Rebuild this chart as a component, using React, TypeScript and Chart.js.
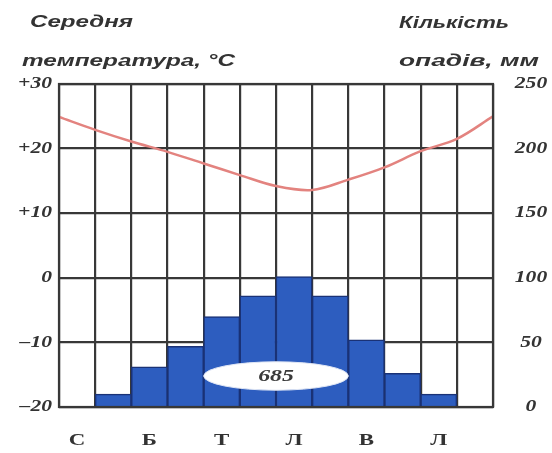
import React, { useEffect, useRef } from "react";
import { Chart, registerables } from "chart.js";

Chart.register(...registerables);

// Ukrainian month initials (Jan..Dec); only every second one is printed
const months = ["С", "Л", "Б", "К", "Т", "Ч", "Л", "С", "В", "Ж", "Л", "Г"];
// monthly precipitation, mm
const precipitation = [0, 10, 31, 47, 70, 86, 101, 86, 52, 26, 10, 0];
// temperature curve read at the 13 month boundaries, °C
const temperature = [24.9, 22.9, 21.1, 19.5, 17.7, 15.9, 14.2, 13.6, 15.2, 17.1, 19.6, 21.5, 25.0];
const tempTicks = [30, 20, 10, 0, -10, -20];
const tempTickLabels = ["+30", "+20", "+10", "0", "–10", "–20"];
const precipTicks = [250, 200, 150, 100, 50, 0];
const precipTickLabels = ["250", "200", "150", "100", "50", "0"];
const annualTotal = "685";
const leftTitle = ["Середня", "температура, °С"];
const rightTitle = ["Кількість", "опадів, мм"];

const TEXT = "#333333";
const GRID = "#383838";

function drawStretched(
  ctx: CanvasRenderingContext2D,
  text: string,
  x: number,
  y: number,
  font: string,
  sx: number,
  align: "left" | "right" | "center",
  baseline: CanvasTextBaseline = "middle"
) {
  ctx.save();
  ctx.font = font;
  ctx.textBaseline = baseline;
  ctx.textAlign = "left";
  const w = ctx.measureText(text).width * sx;
  const left = align === "right" ? x - w : align === "center" ? x - w / 2 : x;
  ctx.translate(left, y);
  ctx.scale(sx, 1);
  ctx.fillText(text, 0, 0);
  ctx.restore();
}

function drawFitted(
  ctx: CanvasRenderingContext2D,
  text: string,
  left: number,
  baselineY: number,
  font: string,
  width: number
) {
  ctx.save();
  ctx.font = font;
  ctx.textBaseline = "alphabetic";
  ctx.textAlign = "left";
  const w = ctx.measureText(text).width;
  ctx.translate(left, baselineY);
  ctx.scale(width / w, 1);
  ctx.fillText(text, 0, 0);
  ctx.restore();
}

const textPlugin = {
  id: "climateText",
  afterDraw(chart: any) {
    const ctx: CanvasRenderingContext2D = chart.ctx;
    const area = chart.chartArea;
    const y = chart.scales.y;
    const y2 = chart.scales.y2;
    const x = chart.scales.x;
    const xT = chart.scales.xT;
    ctx.save();

    // frame around the plot area
    ctx.strokeStyle = GRID;
    ctx.lineWidth = 2.2;
    ctx.strokeRect(area.left, area.top, area.right - area.left, area.bottom - area.top);

    ctx.fillStyle = TEXT;

    // titles
    const titleFont = "italic bold 16px 'Liberation Sans', Arial, sans-serif";
    drawFitted(ctx, leftTitle[0], 30, 27, titleFont, 103);
    drawFitted(ctx, leftTitle[1], 22, 66, titleFont, 213);
    drawFitted(ctx, rightTitle[0], 399, 28, titleFont, 110);
    drawFitted(ctx, rightTitle[1], 399, 66, titleFont, 140);

    // tick labels
    const tickFont = "italic bold 16px 'Liberation Serif', 'Times New Roman', serif";
    tempTicks.forEach((v, i) => {
      drawStretched(ctx, tempTickLabels[i], area.left - 7, y.getPixelForValue(v), tickFont, 1.35, "right");
    });
    precipTicks.forEach((v, i) => {
      drawStretched(ctx, precipTickLabels[i], area.right + 38, y2.getPixelForValue(v), tickFont, 1.35, "center");
    });

    // month labels
    const monthFont = "bold 17px 'Liberation Serif', 'Times New Roman', serif";
    months.forEach((m, i) => {
      if (i % 2 !== 0) return;
      drawStretched(ctx, m, x.getPixelForValue(i), area.bottom + 34, monthFont, 1.35, "center");
    });

    // annual total ellipse
    const cx = xT.getPixelForValue(6);
    const cy = y2.getPixelForValue(24);
    const rx = (xT.getPixelForValue(8) - xT.getPixelForValue(4)) / 2;
    const ry = (y2.getPixelForValue(13) - y2.getPixelForValue(35)) / 2;
    ctx.beginPath();
    ctx.ellipse(cx, cy, rx, ry, 0, 0, Math.PI * 2);
    ctx.fillStyle = "#ffffff";
    ctx.fill();
    ctx.lineWidth = 1;
    ctx.strokeStyle = "#dfe6f5";
    ctx.stroke();
    ctx.fillStyle = "#3a3a3a";
    drawStretched(
      ctx,
      annualTotal,
      cx,
      cy + 1,
      "italic bold 17px 'Liberation Serif', 'Times New Roman', serif",
      1.4,
      "center"
    );
    ctx.restore();
  },
};

export default function App() {
  const ref = useRef<HTMLCanvasElement | null>(null);

  useEffect(() => {
    document.body.style.margin = "0";
    const canvas = ref.current;
    if (!canvas) return;
    const chart = new Chart(canvas, {
      type: "bar",
      data: {
        labels: months,
        datasets: [
          {
            type: "line",
            data: temperature.map((t, i) => ({ x: i, y: t })),
            xAxisID: "xT",
            yAxisID: "y",
            borderColor: "#e3837f",
            borderWidth: 2.5,
            pointRadius: 0,
            tension: 0.35,
            fill: false,
            order: 0,
          } as any,
          {
            type: "bar",
            data: precipitation,
            xAxisID: "x",
            yAxisID: "y2",
            backgroundColor: "#2d5dbf",
            borderColor: "#1a3276",
            borderWidth: 1.5,
            barPercentage: 1,
            categoryPercentage: 1,
            grouped: false,
            order: 1,
          } as any,
        ],
      },
      options: {
        responsive: false,
        animation: false,
        layout: { padding: { left: 59, right: 59, top: 84, bottom: 46 } },
        plugins: {
          legend: { display: false },
          tooltip: { enabled: false },
        },
        scales: {
          x: {
            type: "category",
            offset: true,
            grid: { offset: true, color: GRID, lineWidth: 2.2, drawTicks: false },
            border: { display: false },
            ticks: { display: false },
            afterFit: (s: any) => {
              s.height = 0;
            },
          },
          xT: {
            type: "linear",
            min: 0,
            max: 12,
            offset: false,
            display: false,
            grid: { offset: false },
          },
          y: {
            position: "left",
            min: -20,
            max: 30,
            ticks: { stepSize: 10, display: false },
            grid: { color: GRID, lineWidth: 2.2, drawTicks: false },
            border: { display: false },
            afterFit: (s: any) => {
              s.width = 0;
            },
            z: 1,
          },
          y2: { position: "right", min: 0, max: 250, display: false },
        } as any,
      },
      plugins: [textPlugin],
    });
    return () => chart.destroy();
  }, []);

  return (
    <div style={{ width: 552, height: 453, background: "#ffffff" }}>
      <canvas ref={ref} width={552} height={453} style={{ display: "block" }} />
    </div>
  );
}
